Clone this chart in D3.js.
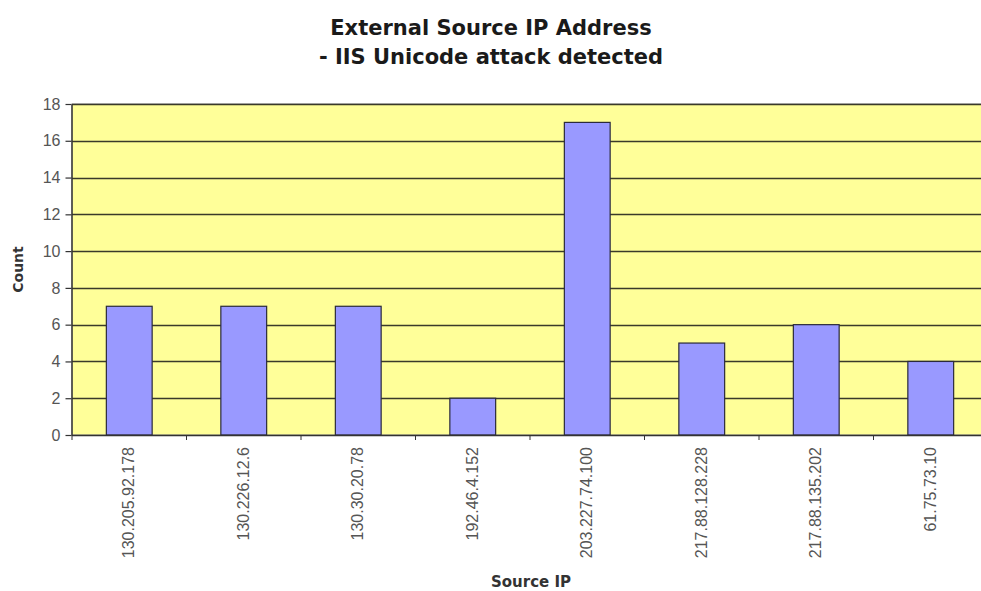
<!DOCTYPE html>
<html>
<head>
<meta charset="utf-8">
<script src="https://cdn.jsdelivr.net/npm/d3@7"></script>
<style>
  html, body { margin: 0; padding: 0; background: #fff; }
  svg { display: block; font-family: "Liberation Sans", Arial, sans-serif; }
</style>
</head>
<body>
<svg id="chart" width="981" height="591"></svg>
<script>
// Source IP addresses and the number of IIS Unicode attacks from each
const sourceIPs = [
  "130.205.92.178", "130.226.12.6", "130.30.20.78", "192.46.4.152",
  "203.227.74.100", "217.88.128.228", "217.88.135.202", "61.75.73.10"
];
const attackCounts = [7, 7, 7, 2, 17, 5, 6, 4];
const yTicks = [0, 2, 4, 6, 8, 10, 12, 14, 16, 18];
const titleLines = ["External Source IP Address", "- IIS Unicode attack detected"];

const svg = d3.select("#chart");
const plot = { left: 72, top: 104, right: 988, bottom: 435 };
const boldFont = "'DejaVu Sans', Verdana, sans-serif";

const x = d3.scaleBand()
  .domain(sourceIPs)
  .range([plot.left, plot.right])
  .paddingInner(0.6)
  .paddingOuter(0.3);

const y = d3.scaleLinear().domain([0, 18]).range([plot.bottom, plot.top]);

// plot area background
svg.append("rect")
  .attr("x", plot.left).attr("y", plot.top)
  .attr("width", plot.right - plot.left).attr("height", plot.bottom - plot.top)
  .attr("fill", "#ffff99")
  .attr("stroke", "#8a8a8a").attr("stroke-width", 1);

// horizontal grid lines
svg.append("g").selectAll("line")
  .data(yTicks.filter(d => d > 0))
  .join("line")
  .attr("x1", plot.left).attr("x2", plot.right)
  .attr("y1", d => Math.round(y(d)) + 0.5).attr("y2", d => Math.round(y(d)) + 0.5)
  .attr("stroke", "#3a3a2a").attr("stroke-width", 1.4);

// bars
svg.append("g").selectAll("rect")
  .data(sourceIPs.map((ip, i) => ({ ip, v: attackCounts[i] })))
  .join("rect")
  .attr("x", d => x(d.ip))
  .attr("y", d => y(d.v))
  .attr("width", x.bandwidth())
  .attr("height", d => y(0) - y(d.v))
  .attr("fill", "#9999ff")
  .attr("stroke", "#2a2a3a").attr("stroke-width", 1.2);

// y axis
const yAxis = svg.append("g")
  .attr("transform", `translate(${plot.left - 0.5},0)`)
  .call(d3.axisLeft(y).tickValues(yTicks).tickSize(6).tickPadding(5).tickSizeOuter(0));
yAxis.select(".domain").attr("stroke", "#333").attr("stroke-width", 1.4);
yAxis.selectAll(".tick line").attr("stroke", "#333").attr("stroke-width", 1.2);
yAxis.selectAll(".tick text")
  .attr("font-size", 16).attr("fill", "#555")
  .attr("font-family", "'Liberation Sans', Arial, sans-serif");

// x axis line with ticks between categories
const step = x.step();
const boundaries = d3.range(sourceIPs.length + 1).map(i => plot.left + i * step);
svg.append("line")
  .attr("x1", plot.left).attr("x2", plot.right)
  .attr("y1", plot.bottom + 0.5).attr("y2", plot.bottom + 0.5)
  .attr("stroke", "#333").attr("stroke-width", 1.4);
svg.append("g").selectAll("line")
  .data(boundaries)
  .join("line")
  .attr("x1", d => d).attr("x2", d => d)
  .attr("y1", plot.bottom).attr("y2", plot.bottom + 5)
  .attr("stroke", "#333").attr("stroke-width", 1);

// rotated category labels
svg.append("g").selectAll("text")
  .data(sourceIPs)
  .join("text")
  .attr("transform", d => `translate(${x(d) + x.bandwidth() / 2 + 5},447) rotate(-90)`)
  .attr("text-anchor", "end")
  .attr("font-size", 16)
  .attr("fill", "#555")
  .text(d => d);

// titles
svg.append("g").selectAll("text")
  .data(titleLines)
  .join("text")
  .attr("x", 491).attr("y", (d, i) => 35 + i * 29)
  .attr("text-anchor", "middle")
  .attr("font-family", boldFont)
  .attr("font-size", 21).attr("font-weight", "bold")
  .attr("fill", "#1a1a1a")
  .text(d => d);

svg.append("text")
  .attr("transform", `translate(23,${(plot.top + plot.bottom) / 2}) rotate(-90)`)
  .attr("text-anchor", "middle")
  .attr("font-family", boldFont)
  .attr("font-size", 14).attr("font-weight", "bold").attr("fill", "#333")
  .text("Count");

svg.append("text")
  .attr("x", 531).attr("y", 587)
  .attr("text-anchor", "middle")
  .attr("font-family", boldFont)
  .attr("font-size", 15).attr("font-weight", "bold").attr("fill", "#333")
  .text("Source IP");
</script>
</body>
</html>
